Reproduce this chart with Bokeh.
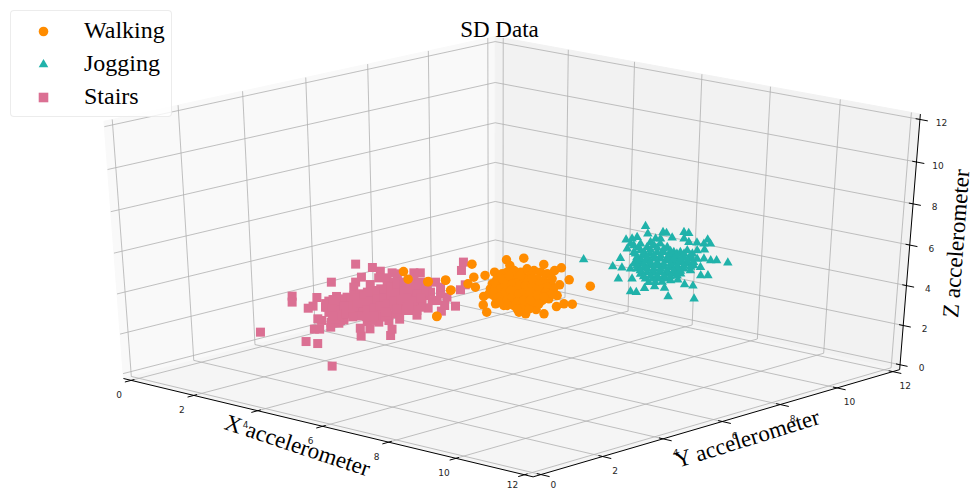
import numpy as np
from bokeh.embed import file_html
from bokeh.resources import INLINE
from bokeh.models import Range1d, Legend, LegendItem
from bokeh.plotting import figure
from bokeh.core.properties import value

TITLE = "SD Data"
AXIS_NAMES = ["X accelerometer", "Y accelerometer", "Z accelerometer"]
SERIES = ["Walking", "Jogging", "Stairs"]
TICKS = [0, 2, 4, 6, 8, 10, 12]

# (x, y, z) accelerometer standard deviations
stairs = [
(0.23,6.93,2.91),(0.64,7.06,2.83),(0.89,7.06,2.73),(0.44,5.89,2.46),(0.77,6.55,2.58),(0.85,6.27,2.46),(0.98,6.07,2.33),
(1.18,6.41,2.40),(0.25,4.78,2.11),(0.45,4.57,1.96),(0.72,5.11,2.08),(0.94,4.75,1.86),(0.93,4.60,1.81),(0.92,3.03,1.21),
(1.44,4.38,1.54),(1.56,4.38,1.50),(1.72,3.97,1.28),(1.81,4.05,1.28),(2.00,3.40,0.98),(2.26,3.51,0.93),(3.22,2.97,0.36),
(2.74,4.44,1.11),(2.47,4.70,1.31),(2.65,4.83,1.29),(3.21,4.92,1.12),(3.03,5.16,1.28),(1.93,4.29,1.33),(1.78,4.46,1.46),
(1.01,5.46,2.10),(1.03,5.18,1.98),(1.18,4.91,1.83),(1.44,4.80,1.71),(1.88,4.67,1.50),(1.92,4.74,1.52),(1.94,4.55,1.43),
(2.37,5.04,1.48),(2.58,5.20,1.46),(2.70,5.41,1.50),(2.83,5.63,1.53),(2.99,6.04,1.63),(2.95,6.46,1.81),(3.27,6.56,1.73),
(3.15,6.80,1.88),(3.35,6.95,1.86),(2.89,7.62,2.27),(2.25,8.35,2.75),(2.00,8.69,2.96),(2.80,7.88,2.39),(2.90,7.15,2.08),
(2.69,7.16,2.17),(2.21,7.51,2.46),(2.46,7.41,2.33),(2.46,7.07,2.21),(1.63,7.62,2.69),(1.52,7.52,2.69),(1.15,7.18,2.69),
(1.28,7.22,2.67),(1.24,6.91,2.57),(1.10,6.78,2.57),(1.16,5.44,2.04),(1.21,5.60,2.08),(1.26,5.77,2.12),(1.33,5.92,2.17),
(1.39,6.09,2.21),(1.44,6.25,2.25),(1.50,6.42,2.29),(1.51,6.63,2.38),(1.50,6.86,2.46),(1.61,6.97,2.46),(1.71,7.13,2.50),
(1.78,7.24,2.50),(1.95,7.28,2.46),(2.29,7.14,2.29),(1.25,5.06,1.88),(1.36,5.17,1.88),(1.41,5.33,1.92),(1.47,5.49,1.96),
(1.52,5.66,2.00),(1.58,5.82,2.04),(1.63,5.99,2.08),(1.69,6.16,2.12),(1.76,6.31,2.17),(1.75,6.54,2.25),(1.81,6.70,2.29),
(1.86,6.87,2.33),(1.98,6.97,2.33),(2.21,6.95,2.25),(2.48,6.88,2.12),(1.41,4.78,1.71),(1.58,4.82,1.67),(1.63,4.98,1.71),
(1.69,5.15,1.75),(1.74,5.31,1.79),(1.80,5.48,1.83),(1.87,5.63,1.88),(1.92,5.79,1.92),(1.98,5.96,1.96),(1.97,6.19,2.04),
(2.03,6.35,2.08),(2.08,6.52,2.12),(2.15,6.67,2.17),(2.37,6.66,2.08),(2.65,6.58,1.96),(2.11,5.31,1.67),(2.17,5.47,1.71),
(2.22,5.64,1.75),(2.28,5.80,1.79),(2.29,6.02,1.88),(2.35,6.18,1.92),(2.40,6.35,1.96),(2.57,6.39,1.92),(2.79,6.38,1.83),
(2.41,5.16,1.50),(2.44,5.41,1.58),(2.52,5.60,1.62),(2.59,5.75,1.67),(2.62,6.00,1.75),(2.73,6.10,1.75),(2.84,6.20,1.75),
(1.74,4.65,1.54),(1.82,4.84,1.58),(1.31,5.38,1.98),(1.37,5.55,2.02),(1.41,5.72,2.07),(1.47,5.89,2.11),(1.50,6.07,2.17),
(1.56,6.24,2.21),(1.61,6.41,2.25),(1.61,6.64,2.33),(1.68,6.79,2.38),(1.73,6.95,2.42),(1.84,7.06,2.42),(2.01,7.10,2.38),
(2.35,6.96,2.21),(1.43,5.03,1.79),(1.53,5.15,1.81),(1.58,5.33,1.86),(1.63,5.49,1.90),(1.68,5.66,1.94),(1.74,5.82,1.98),
(1.79,5.99,2.02),(1.86,6.14,2.07),(1.87,6.36,2.14),(1.91,6.53,2.19),(1.97,6.70,2.23),(2.06,6.82,2.25),(2.29,6.80,2.17),
(1.94,5.27,1.71),(1.96,5.47,1.77),(2.04,5.62,1.81),(2.08,5.79,1.86),(2.12,5.97,1.92),(2.13,6.18,1.98),(2.19,6.35,2.02),
(2.26,6.50,2.07),(2.46,6.51,2.00),(2.49,6.70,2.06),(2.77,6.79,2.00),(2.85,6.87,2.00),(1.21,4.94,1.83),(1.49,5.08,1.79),
(2.34,5.35,1.60),(2.37,5.65,1.71),(2.45,5.96,1.79),(2.57,6.22,1.85),
(1.35,4.90,1.72),(1.48,4.85,1.68),(1.30,5.15,1.85),(1.20,5.25,1.95),(1.15,5.05,1.90),(1.10,5.00,1.95),(1.55,5.05,1.75),
(1.45,5.25,1.85),(1.65,4.85,1.60),(1.75,5.00,1.65),(1.85,5.15,1.68),(1.30,5.00,1.80),(1.60,4.70,1.60),(1.05,5.30,2.02),
(2.05,5.10,1.62),(1.95,5.00,1.58),(2.20,5.20,1.60),(2.30,5.35,1.60)]

walking = [
(2.48,8.46,3.11),(2.92,9.16,3.22),(3.16,9.49,3.26),
(3.18,8.99,3.08),(3.71,9.57,3.10),(4.13,9.71,3.02),(4.10,9.51,2.95),(2.95,8.01,2.78),(3.08,7.67,2.62),(3.09,8.24,2.83),
(3.14,8.51,2.91),(2.33,7.12,2.67),(2.57,7.46,2.71),(3.00,7.18,2.46),(3.63,6.02,1.80),(4.66,9.39,2.72),(5.23,9.48,2.56),
(4.66,9.06,2.59),(5.51,8.55,2.11),(5.36,8.43,2.12),(5.32,8.22,2.05),(5.35,7.76,1.87),(5.08,7.79,1.98),(5.04,7.48,1.87),
(4.87,7.44,1.91),(4.33,6.94,1.91),(4.03,7.15,2.09),(3.76,7.46,2.30),(4.98,8.62,2.33),(3.31,7.67,2.53),(3.49,8.05,2.62),
(3.40,8.31,2.74),(3.32,8.57,2.87),(3.35,8.71,2.91),(3.41,8.88,2.95),(3.58,8.92,2.91),(3.57,9.15,2.99),(3.75,9.19,2.95),
(3.92,9.23,2.91),(4.09,9.27,2.87),(4.33,9.17,2.74),(3.62,7.84,2.49),(3.65,7.98,2.53),(3.63,8.17,2.62),(3.60,8.38,2.70),
(3.63,8.52,2.74),(3.68,8.69,2.78),(3.80,8.79,2.78),(3.86,8.94,2.83),(4.08,8.93,2.74),(4.25,8.97,2.70),(4.48,8.95,2.62),
(3.77,7.63,2.37),(3.91,7.64,2.33),(3.88,7.85,2.41),(3.85,8.05,2.49),(3.87,8.19,2.53),(3.88,8.41,2.62),(4.00,8.51,2.62),
(4.05,8.68,2.66),(4.28,8.65,2.58),(4.44,8.71,2.53),(4.67,8.68,2.45),(4.69,8.82,2.49),(4.12,7.52,2.20),(4.09,7.72,2.28),
(4.13,7.85,2.33),(4.13,8.08,2.41),(4.19,8.25,2.45),(4.24,8.41,2.49),(4.47,8.39,2.41),(4.64,8.43,2.37),(4.81,8.47,2.33),
(4.21,7.37,2.12),(4.40,7.44,2.08),(4.40,7.67,2.16),(4.37,7.87,2.24),(4.43,8.03,2.28),(4.50,8.19,2.33),(4.71,8.18,2.24),
(4.88,8.22,2.20),(4.94,8.38,2.24),(4.57,7.59,2.08),(4.63,7.76,2.12),(4.68,7.92,2.16),(4.85,7.96,2.12),(4.81,7.61,1.99),
(4.93,7.71,1.99),(3.49,8.16,2.66),(3.79,8.00,2.49),(3.77,8.19,2.58),(3.83,8.36,2.62),(3.83,8.59,2.70),(3.94,8.69,2.70),
(3.99,8.86,2.74),(4.28,8.77,2.62),(4.39,8.87,2.62),(4.52,8.78,2.53),(3.78,7.76,2.41),(4.04,7.67,2.28),(3.99,7.95,2.41),
(4.02,8.09,2.45),(4.04,8.35,2.53),(4.11,8.50,2.58),(4.27,8.55,2.53),(4.50,8.53,2.45),(4.67,8.57,2.41),(4.23,7.51,2.16),
(4.29,7.68,2.20),(4.26,7.88,2.28),(4.27,8.09,2.37),(4.33,8.26,2.41),(4.41,8.34,2.41),(4.64,8.31,2.33),(4.80,8.37,2.28),
(4.84,8.61,2.37),(4.46,7.49,2.08),(4.52,7.77,2.16),(4.57,7.93,2.20),(4.68,8.04,2.20),(4.94,8.04,2.12),(4.73,7.53,1.99),
(3.49,8.39,2.74),(3.50,8.61,2.83),(3.69,8.79,2.83),(1.56,7.13,2.92),(1.90,6.92,2.73),(2.32,7.15,2.67),(2.58,7.46,2.71),
(3.00,7.17,2.46),(3.62,6.03,1.81)]

jogging = [
(5.26,11.33,4.91),(5.56,11.07,4.72),(5.76,11.37,4.76),(5.84,11.40,4.73),(6.10,11.30,4.62),
(6.11,11.70,4.76),(6.22,11.74,4.73),(5.39,10.51,4.57),(5.45,10.65,4.59),(5.48,10.79,4.63),(5.77,10.58,4.47),(5.85,11.01,4.59),
(6.33,11.45,4.59),(6.53,11.39,4.51),(6.68,11.50,4.49),(6.84,11.56,4.47),(6.77,11.77,4.57),(6.95,11.66,4.47),(5.70,10.20,4.34),
(7.04,11.35,4.32),(6.94,11.21,4.30),(5.90,9.74,4.11),(6.04,9.32,3.90),(6.24,9.41,3.87),(6.53,8.96,3.59),(7.13,8.70,3.27),
(7.26,8.75,3.26),(7.27,9.02,3.36),(7.38,9.24,3.40),(7.60,9.33,3.36),(7.93,9.08,3.15),(8.43,9.40,3.09),(8.01,9.84,3.42),
(7.82,9.77,3.45),(7.56,9.83,3.57),(7.80,10.35,3.67),(7.92,10.46,3.67),(7.53,10.65,3.88),(7.59,11.14,4.05),(7.85,11.23,3.99),
(7.49,11.05,4.05),(7.32,11.01,4.09),(6.76,9.17,3.59),(6.41,9.51,3.84),(5.93,10.17,4.26),(5.98,10.34,4.30),(5.98,10.57,4.38),
(6.04,10.74,4.42),(6.10,10.89,4.47),(6.32,10.88,4.38),(6.60,10.79,4.26),(6.71,10.89,4.26),(6.77,11.06,4.30),(6.97,11.01,4.22),
(6.14,10.04,4.13),(6.20,10.21,4.17),(6.26,10.36,4.22),(6.32,10.53,4.26),(6.43,10.63,4.26),(6.65,10.62,4.17),(6.81,10.66,4.13),
(6.93,10.76,4.13),(7.09,10.80,4.09),(7.21,10.90,4.09),(6.31,9.74,3.97),(6.37,9.90,4.01),(6.42,10.07,4.05),(6.48,10.24,4.09),
(6.59,10.34,4.09),(6.76,10.38,4.05),(6.93,10.42,4.01),(7.04,10.52,4.01),(7.21,10.56,3.97),(7.36,10.61,3.92),(6.52,9.61,3.84),
(6.58,9.78,3.88),(6.63,9.95,3.92),(6.75,10.05,3.92),(6.91,10.09,3.88),(7.03,10.19,3.88),(7.19,10.23,3.84),(7.31,10.33,3.84),
(7.47,10.37,3.80),(6.75,9.47,3.72),(6.80,9.64,3.76),(6.91,9.74,3.76),(7.03,9.84,3.76),(7.19,9.88,3.72),(7.31,9.99,3.72),
(7.42,10.09,3.72),(6.98,9.38,3.59),(7.10,9.48,3.59),(7.21,9.58,3.59),(7.32,9.68,3.59),(7.46,9.70,3.55),(7.15,9.30,3.51),
(5.70,10.43,4.42),(5.84,10.44,4.38),(6.10,10.33,4.26),(6.13,10.51,4.32),(6.18,10.69,4.37),(6.32,10.76,4.34),(6.51,10.78,4.28),
(6.71,10.77,4.22),(6.83,10.88,4.22),(6.98,10.93,4.17),(6.25,10.03,4.09),(6.31,10.20,4.13),(6.36,10.37,4.17),(6.48,10.47,4.17),
(6.65,10.51,4.13),(6.81,10.55,4.09),(6.96,10.61,4.08),(7.09,10.69,4.05),(7.26,10.72,4.01),(6.41,9.74,3.92),(6.48,9.89,3.97),
(6.53,10.06,4.01),(6.65,10.16,4.01),(6.81,10.20,3.97),(6.93,10.30,3.97),(7.08,10.36,3.92),(7.19,10.46,3.92),(7.36,10.50,3.88),
(6.63,9.60,3.80),(6.69,9.77,3.84),(6.80,9.87,3.84),(6.91,9.97,3.84),(7.08,10.01,3.80),(7.19,10.11,3.80),(7.32,10.20,3.78),
(6.88,9.43,3.65),(6.96,9.58,3.67),(7.07,9.68,3.67),(7.21,9.75,3.66),(7.33,9.84,3.65),(7.40,9.99,3.67),(7.26,9.40,3.51),
(7.37,9.51,3.51),(6.25,9.92,4.05),(6.01,10.13,4.22),(5.60,10.43,4.47),(5.88,10.80,4.51),(5.93,11.09,4.59),(5.33,9.12,4.08)]

# camera: where the box's edges sit in the window, used to fit a 3D projection
LO, HI = -0.25, 12.25
CAM_X = [(130, 379.5), (195, 394), (258, 411), (323, 426), (388, 442), (457, 457), (525, 475)]
CAM_Y = [(541.7, 475), (600, 456.7), (661.7, 438.7), (720, 421), (778, 404), (836.7, 387), (891.7, 370.7)]
CAM_Z = [(900, 365), (903.7, 325), (907, 285), (910, 244), (912.7, 203), (915.7, 161), (918.7, 118.3)]
CAM_L = [(121.7, 373), (119, 333), (116, 293), (113.3, 252), (110, 211), (106.7, 169), (104, 126.7)]
world, screen = [], []
for t, s in zip(TICKS, CAM_X): world.append((t, LO, LO)); screen.append(s)
for t, s in zip(TICKS, CAM_Y): world.append((HI, t, LO)); screen.append(s)
for t, s in zip(TICKS, CAM_Z): world.append((HI, HI, t)); screen.append(s)
for t, s in zip(TICKS, CAM_L): world.append((LO, LO, t)); screen.append(s)
world.append((LO, HI, 12)); screen.append((495, 42))
world.append((LO, HI, 10)); screen.append((495, 83))
A = []
for (X, Y, Z), (u, v) in zip(world, screen):
    u2, v2 = u / 500, v / 500
    A.append([X, Y, Z, 1, 0, 0, 0, 0, -u2 * X, -u2 * Y, -u2 * Z, -u2])
    A.append([0, 0, 0, 0, X, Y, Z, 1, -v2 * X, -v2 * Y, -v2 * Z, -v2])
P = np.linalg.svd(np.array(A))[2][-1].reshape(3, 4)
P[:2] *= 500

def proj(x, y, z):
    h = np.c_[x, y, z, np.ones(len(x))] @ P.T
    return h[:, 0] / h[:, 2], h[:, 1] / h[:, 2]

W, H = 973, 491
p = figure(width=W, height=H, x_range=Range1d(0, W), y_range=Range1d(H, 0), output_backend="svg", toolbar_location=None, min_border=0, outline_line_color=None)
p.axis.visible = False
p.grid.visible = False
p.background_fill_color = "white"

def poly(c, col):
    c = np.array(c, float)
    u, v = proj(c[:, 0], c[:, 1], c[:, 2])
    p.patch(u, v, fill_color=col, line_color=col, line_width=1)
poly([(LO, LO, LO), (LO, HI, LO), (LO, HI, HI), (LO, LO, HI)], "#f9f9f9")
poly([(LO, HI, LO), (HI, HI, LO), (HI, HI, HI), (LO, HI, HI)], "#f2f2f2")
poly([(LO, LO, LO), (HI, LO, LO), (HI, HI, LO), (LO, HI, LO)], "#f5f5f5")

xs, ys = [], []
def add(c):
    c = np.array(c, float)
    u, v = proj(c[:, 0], c[:, 1], c[:, 2])
    xs.append(list(u)); ys.append(list(v))
for t in TICKS:
    add([(t, LO, LO), (t, HI, LO), (t, HI, HI)])
    add([(HI, t, LO), (LO, t, LO), (LO, t, HI)])
    add([(HI, HI, t), (LO, HI, t), (LO, LO, t)])
p.multi_line(xs, ys, line_color="#b0b0b0", line_width=0.8)

xs, ys = [], []
add([(LO, LO, LO), (HI, LO, LO)]); add([(HI, LO, LO), (HI, HI, LO)]); add([(HI, HI, LO), (HI, HI, HI)])
for t in TICKS:
    add([(t, LO - 0.2, LO), (t, LO + 0.1, LO)])
    add([(HI - 0.12, t, LO), (HI + 0.25, t, LO)])
    add([(HI - 0.12, HI, t), (HI + 0.22, HI, t)])
p.multi_line(xs, ys, line_color="black", line_width=1)

lab = dict(text=[str(i) for i in TICKS], text_font=value("DejaVu Sans"), text_font_size="9px", text_color="#262626", text_align="center", text_baseline="middle")
t = np.array(TICKS, float)
n = np.ones(len(t))
LOWEST = 484
u, v = proj(t, LO * n, LO * n)
p.text(u - 12, np.minimum(v + 14, LOWEST), **lab)
u, v = proj(HI * n, t, LO * n)
p.text(u + 12.5, np.minimum(v + 13.5, LOWEST), **lab)
u, v = proj(HI * n, HI * n, t)
p.text(u + 21.5, v + 3, **lab)

def scat(d, marker, col, size):
    a = np.array(d)
    u, v = proj(a[:, 0], a[:, 1], a[:, 2])
    return p.scatter(u, v, marker=marker, size=size, fill_color=col, line_color=col, line_width=0)
r3 = scat(stairs, "square", "#db7093", 9)
r1 = scat(walking, "circle", "#ff8c00", 9.5)
r2 = scat(jogging, "triangle", "#20b2aa", 9.5)

serif = value("Liberation Serif")
for txt, cx, cy, ang in [(TITLE, 499, 29, 0), (AXIS_NAMES[0], 297, 445, -0.32), (AXIS_NAMES[1], 747, 438, 0.30), (AXIS_NAMES[2], 955.7, 243, 1.494)]:
    p.text([cx], [cy], text=[txt], angle=[ang], text_font=serif, text_font_size="23px", text_color="black", text_align="center", text_baseline="middle")

opts = {}
if "border_radius" in Legend.properties():
    opts["border_radius"] = 4
leg = Legend(items=[LegendItem(label=SERIES[0], renderers=[r1]), LegendItem(label=SERIES[1], renderers=[r2]), LegendItem(label=SERIES[2], renderers=[r3])],
             location=(10, H - 12 - 105), orientation="vertical", glyph_width=52, glyph_height=24, label_standoff=15, padding=6, margin=0, spacing=6,
             label_text_font="Liberation Serif", label_text_font_size="24px", label_text_color="black", background_fill_color="white", background_fill_alpha=0.8,
             border_line_color="#d9d9d9", border_line_width=1, **opts)
p.add_layout(leg)

open("out.html", "w").write(file_html(p, INLINE))
